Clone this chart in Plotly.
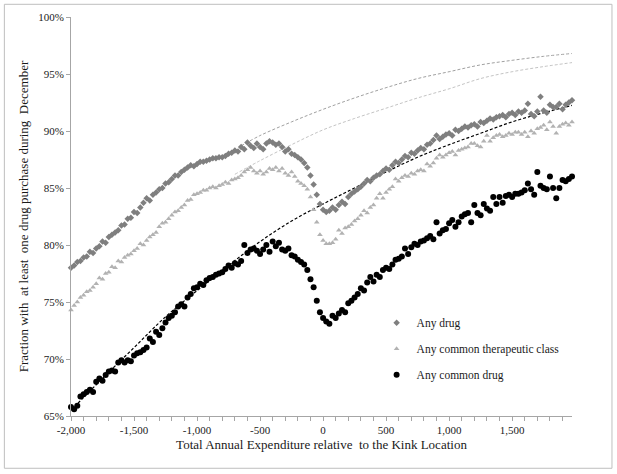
"""
Fraction with at least one drug purchase in December, around the kink.
"""
import plotly.graph_objects as go

# bins of 25 from -2000 to 1975
EXPENDITURE = list(range(-2000, 2000, 25))

ANY_DRUG = [
    78.0, 78.2, 78.5, 78.6, 78.9, 79.0, 79.4, 79.3,
    79.7, 79.9, 80.3, 80.2, 80.7, 80.9, 81.1, 81.3,
    81.7, 81.8, 82.3, 82.4, 82.9, 82.8, 83.3, 83.7,
    84.1, 83.9, 84.4, 84.6, 84.9, 85.0, 85.4, 85.5,
    85.8, 86.1, 86.1, 86.4, 86.6, 86.8, 87.0, 86.9,
    87.1, 87.3, 87.3, 87.4, 87.5, 87.6, 87.6, 87.7,
    87.7, 87.8, 88.0, 88.1, 88.3, 88.2, 88.6, 88.4,
    89.0, 88.7, 88.5, 88.9, 88.6, 88.4, 88.9, 89.1,
    89.0, 88.8, 88.9, 88.6, 88.2, 88.4, 88.0, 87.9,
    87.7, 87.5, 87.2, 86.8, 86.1, 85.3, 84.4, 83.6,
    83.1, 82.9, 83.0, 83.3, 83.1, 83.5, 83.8, 83.6,
    84.2, 84.5, 84.7, 84.9, 85.1, 85.4, 85.7, 85.6,
    85.9, 86.1, 86.2, 86.5, 86.7, 86.6, 87.0, 87.3,
    87.2, 87.5, 87.8, 87.7, 88.1, 88.0, 88.3, 88.5,
    88.4, 88.8, 88.9, 89.2, 89.6, 89.3, 89.5, 89.7,
    89.8, 89.6, 90.1, 90.0, 90.2, 90.4, 90.3, 90.5,
    90.6, 90.4, 90.8, 90.7, 90.9, 91.1, 91.0, 91.2,
    91.3, 91.4, 91.2, 91.5, 91.6, 91.4, 91.7, 91.6,
    91.8, 92.4, 91.5, 91.3, 91.7, 93.0, 91.8, 91.6,
    92.3, 92.1, 92.1, 92.4, 91.9, 92.3, 92.5, 92.7,
]

THERAPEUTIC_CLASS = [
    74.3, 74.7, 75.0, 75.4, 75.6, 75.9, 76.0, 76.3,
    76.6, 77.1, 77.0, 77.5, 77.6, 78.1, 78.0, 78.6,
    78.5, 78.9, 79.1, 79.2, 79.5, 79.7, 80.1, 80.0,
    80.4, 80.7, 80.9, 81.1, 81.6, 81.9, 82.0, 82.3,
    82.6, 82.9, 83.0, 83.3, 83.5, 83.9, 84.0, 84.4,
    84.5, 84.6, 84.8, 84.8, 85.0, 85.1, 85.0, 85.2,
    85.3, 85.5, 85.4, 85.7, 85.8, 85.9, 86.1, 86.4,
    86.6, 86.8, 86.5, 86.3, 86.5, 86.2, 86.4, 86.7,
    86.6, 86.8, 86.5, 86.7, 86.3, 86.1, 86.4, 86.0,
    85.6, 85.4, 85.2, 84.9, 84.2, 83.1, 82.0, 80.9,
    80.4, 80.1, 80.1, 80.2, 80.5, 81.3, 81.0, 81.5,
    81.6, 81.8, 82.1, 82.3, 82.6, 83.0, 82.8, 83.3,
    83.5, 84.1, 84.5, 84.1, 84.6, 84.9, 85.1, 85.8,
    85.6, 85.9, 86.1, 86.0, 86.3, 86.2, 86.5, 86.6,
    86.5, 87.1, 86.9, 87.2, 87.6, 87.9, 87.7, 87.9,
    88.1, 88.2, 87.9, 88.3, 88.4, 88.5, 88.6, 88.9,
    88.9, 88.7, 88.6, 89.1, 89.6, 89.1, 89.4, 89.6,
    89.7, 89.5, 89.6, 89.8, 89.7, 89.9, 89.9, 89.7,
    89.9, 89.5, 90.0, 89.8, 90.2, 90.3, 90.5, 90.1,
    90.8, 90.4, 89.8, 90.4, 90.6, 90.7, 90.5, 90.8,
]

COMMON_DRUG = [
    65.8, 65.6, 65.9, 66.7, 66.9, 67.1, 67.3, 67.1,
    68.0, 68.3, 68.1, 68.6, 68.9, 69.0, 68.9, 69.7,
    69.9, 69.7, 69.9, 69.8, 70.3, 70.5, 70.6, 70.8,
    71.0, 71.8, 71.5, 72.4, 72.1, 72.7, 73.2, 73.6,
    73.8, 74.1, 74.6, 74.8, 74.6, 75.4, 75.7, 76.2,
    76.3, 76.6, 76.5, 76.9, 77.1, 77.2, 77.4, 77.5,
    77.6, 77.9, 78.2, 78.0, 78.4, 78.3, 78.6, 80.0,
    79.3, 79.6, 79.7, 79.5, 79.2, 79.6, 80.0, 79.4,
    80.3, 79.9, 80.2, 79.6, 79.5, 79.7, 79.1, 79.0,
    78.7, 78.5, 78.3, 77.8, 77.0, 76.3, 75.1, 74.1,
    73.6, 73.3, 73.1, 73.8, 73.6, 74.0, 74.3, 74.1,
    74.9, 75.1, 75.4, 75.7, 76.2, 76.0, 76.7, 77.2,
    76.8, 77.4, 77.2, 77.8, 78.0, 77.9, 78.3, 78.7,
    78.8, 79.0, 79.7, 79.2, 79.8, 80.1, 80.0, 80.3,
    80.4, 80.6, 80.8, 80.5, 82.0, 81.0, 81.3, 81.4,
    81.9, 82.2, 81.6, 82.0, 82.5, 82.7, 82.8, 82.0,
    83.5, 82.8, 82.6, 83.6, 83.2, 83.0, 84.2, 83.6,
    84.2, 83.7, 84.3, 84.4, 84.2, 84.5, 84.5, 84.6,
    84.8, 85.4, 84.9, 84.4, 86.4, 85.2, 85.0, 84.9,
    86.0, 85.0, 84.1, 85.0, 85.7, 85.6, 85.8, 86.0,
]

# counterfactual (dashed) curves
FIT_ANY_X = [-650, -500, -250, 0, 250, 500, 750, 1000, 1250, 1500, 1750, 1975]
FIT_ANY_Y = [88.7, 89.6, 90.8, 91.9, 92.9, 93.8, 94.6, 95.2, 95.8, 96.2, 96.55, 96.8]

FIT_CLASS_X = [-700, -500, -250, 0, 250, 500, 750, 1000, 1250, 1500, 1750, 1975]
FIT_CLASS_Y = [86.2, 87.4, 88.8, 90.1, 91.1, 92.0, 92.9, 93.7, 94.6, 95.2, 95.65, 96.0]

FIT_COMMON_X = [-2000, -1750, -1500, -1250, -1000, -750, -500, -250, 0,
                250, 500, 750, 1000, 1250, 1500, 1750, 1975]
FIT_COMMON_Y = [65.5, 68.3, 71.0, 73.7, 76.0, 78.2, 80.3, 82.1, 83.6,
                85.0, 86.4, 87.7, 88.8, 89.8, 90.8, 91.6, 92.25]

X_TICKS = [-2000, -1500, -1000, -500, 0, 500, 1000, 1500]
X_TICK_TEXT = ["-2,000", "-1,500", "-1,000", "-500", "0", "500", "1,000", "1,500"]
Y_TICKS = [65, 70, 75, 80, 85, 90, 95, 100]
Y_TICK_TEXT = ["65%", "70%", "75%", "80%", "85%", "90%", "95%", "100%"]

FONT = "Liberation Serif, Times New Roman, serif"
AXIS_GREY = "#a6a6a6"

fig = go.Figure()

# dashed fits first so markers sit on top
for xs, ys, col, w in [
    (FIT_ANY_X, FIT_ANY_Y, "#a0a0a0", 1),
    (FIT_CLASS_X, FIT_CLASS_Y, "#c4c4c4", 1),
    (FIT_COMMON_X, FIT_COMMON_Y, "#000000", 1.2),
]:
    fig.add_trace(go.Scatter(
        x=xs, y=ys, mode="lines", line_shape="spline",
        line=dict(color=col, width=w, dash="3px,2px"),
        showlegend=False, hoverinfo="skip",
    ))

fig.add_trace(go.Scatter(
    x=EXPENDITURE, y=ANY_DRUG, mode="markers", name="Any drug",
    legendgroup="a", cliponaxis=False,
    marker=dict(symbol="diamond", size=5, color="#7f7f7f"),
))
fig.add_trace(go.Scatter(
    x=EXPENDITURE, y=THERAPEUTIC_CLASS, mode="markers",
    name="Any common therapeutic class", legendgroup="b", cliponaxis=False,
    marker=dict(symbol="triangle-up", size=5, color="#b2b2b2"),
))
fig.add_trace(go.Scatter(
    x=EXPENDITURE, y=COMMON_DRUG, mode="markers", name="Any common drug",
    legendgroup="c", cliponaxis=False,
    marker=dict(symbol="circle", size=6, color="#000000"),
))

fig.update_layout(
    width=617, height=474,
    paper_bgcolor="white", plot_bgcolor="white",
    font=dict(family=FONT, size=11, color="#1a1a1a"),
    margin=dict(l=71, r=45, t=17, b=58),
    showlegend=True,
    legend=dict(
        x=0.61, y=0.27, xanchor="left", yanchor="top",
        bgcolor="rgba(0,0,0,0)", font=dict(size=11.5, color="#1a1a1a"),
        traceorder="grouped", tracegroupgap=7, itemwidth=30,
    ),
    xaxis=dict(
        range=[-2000, 1975],
        tickmode="array", tickvals=X_TICKS, ticktext=X_TICK_TEXT,
        ticks="outside", ticklen=4, tickcolor=AXIS_GREY,
        minor=dict(tickmode="linear", tick0=-2000, dtick=100,
                   ticks="outside", ticklen=4, tickcolor=AXIS_GREY),
        showline=True, linecolor=AXIS_GREY, linewidth=1,
        showgrid=False, zeroline=False,
        title=dict(text="Total Annual Expenditure relative  to the Kink Location",
                   standoff=4),
    ),
    yaxis=dict(
        range=[65, 100],
        tickmode="array", tickvals=Y_TICKS, ticktext=Y_TICK_TEXT,
        ticks="outside", ticklen=4, tickcolor=AXIS_GREY,
        showline=True, linecolor=AXIS_GREY, linewidth=1,
        showgrid=False, zeroline=False,
        title=dict(text="Fraction with  at least  one drug purchase during  December",
                   standoff=6),
    ),
    shapes=[dict(
        type="rect", xref="paper", yref="paper",
        x0=-0.133, x1=1.0798, y0=-0.131, y1=1.0318,
        line=dict(color="#bfbfbf", width=1), fillcolor="rgba(0,0,0,0)",
    )],
)

# page body has a default 8px margin; drop it so the figure sits at 0,0
fig.write_html(
    "out.html",
    config={"displayModeBar": False},
    post_script="document.body.style.margin='0';",
)
